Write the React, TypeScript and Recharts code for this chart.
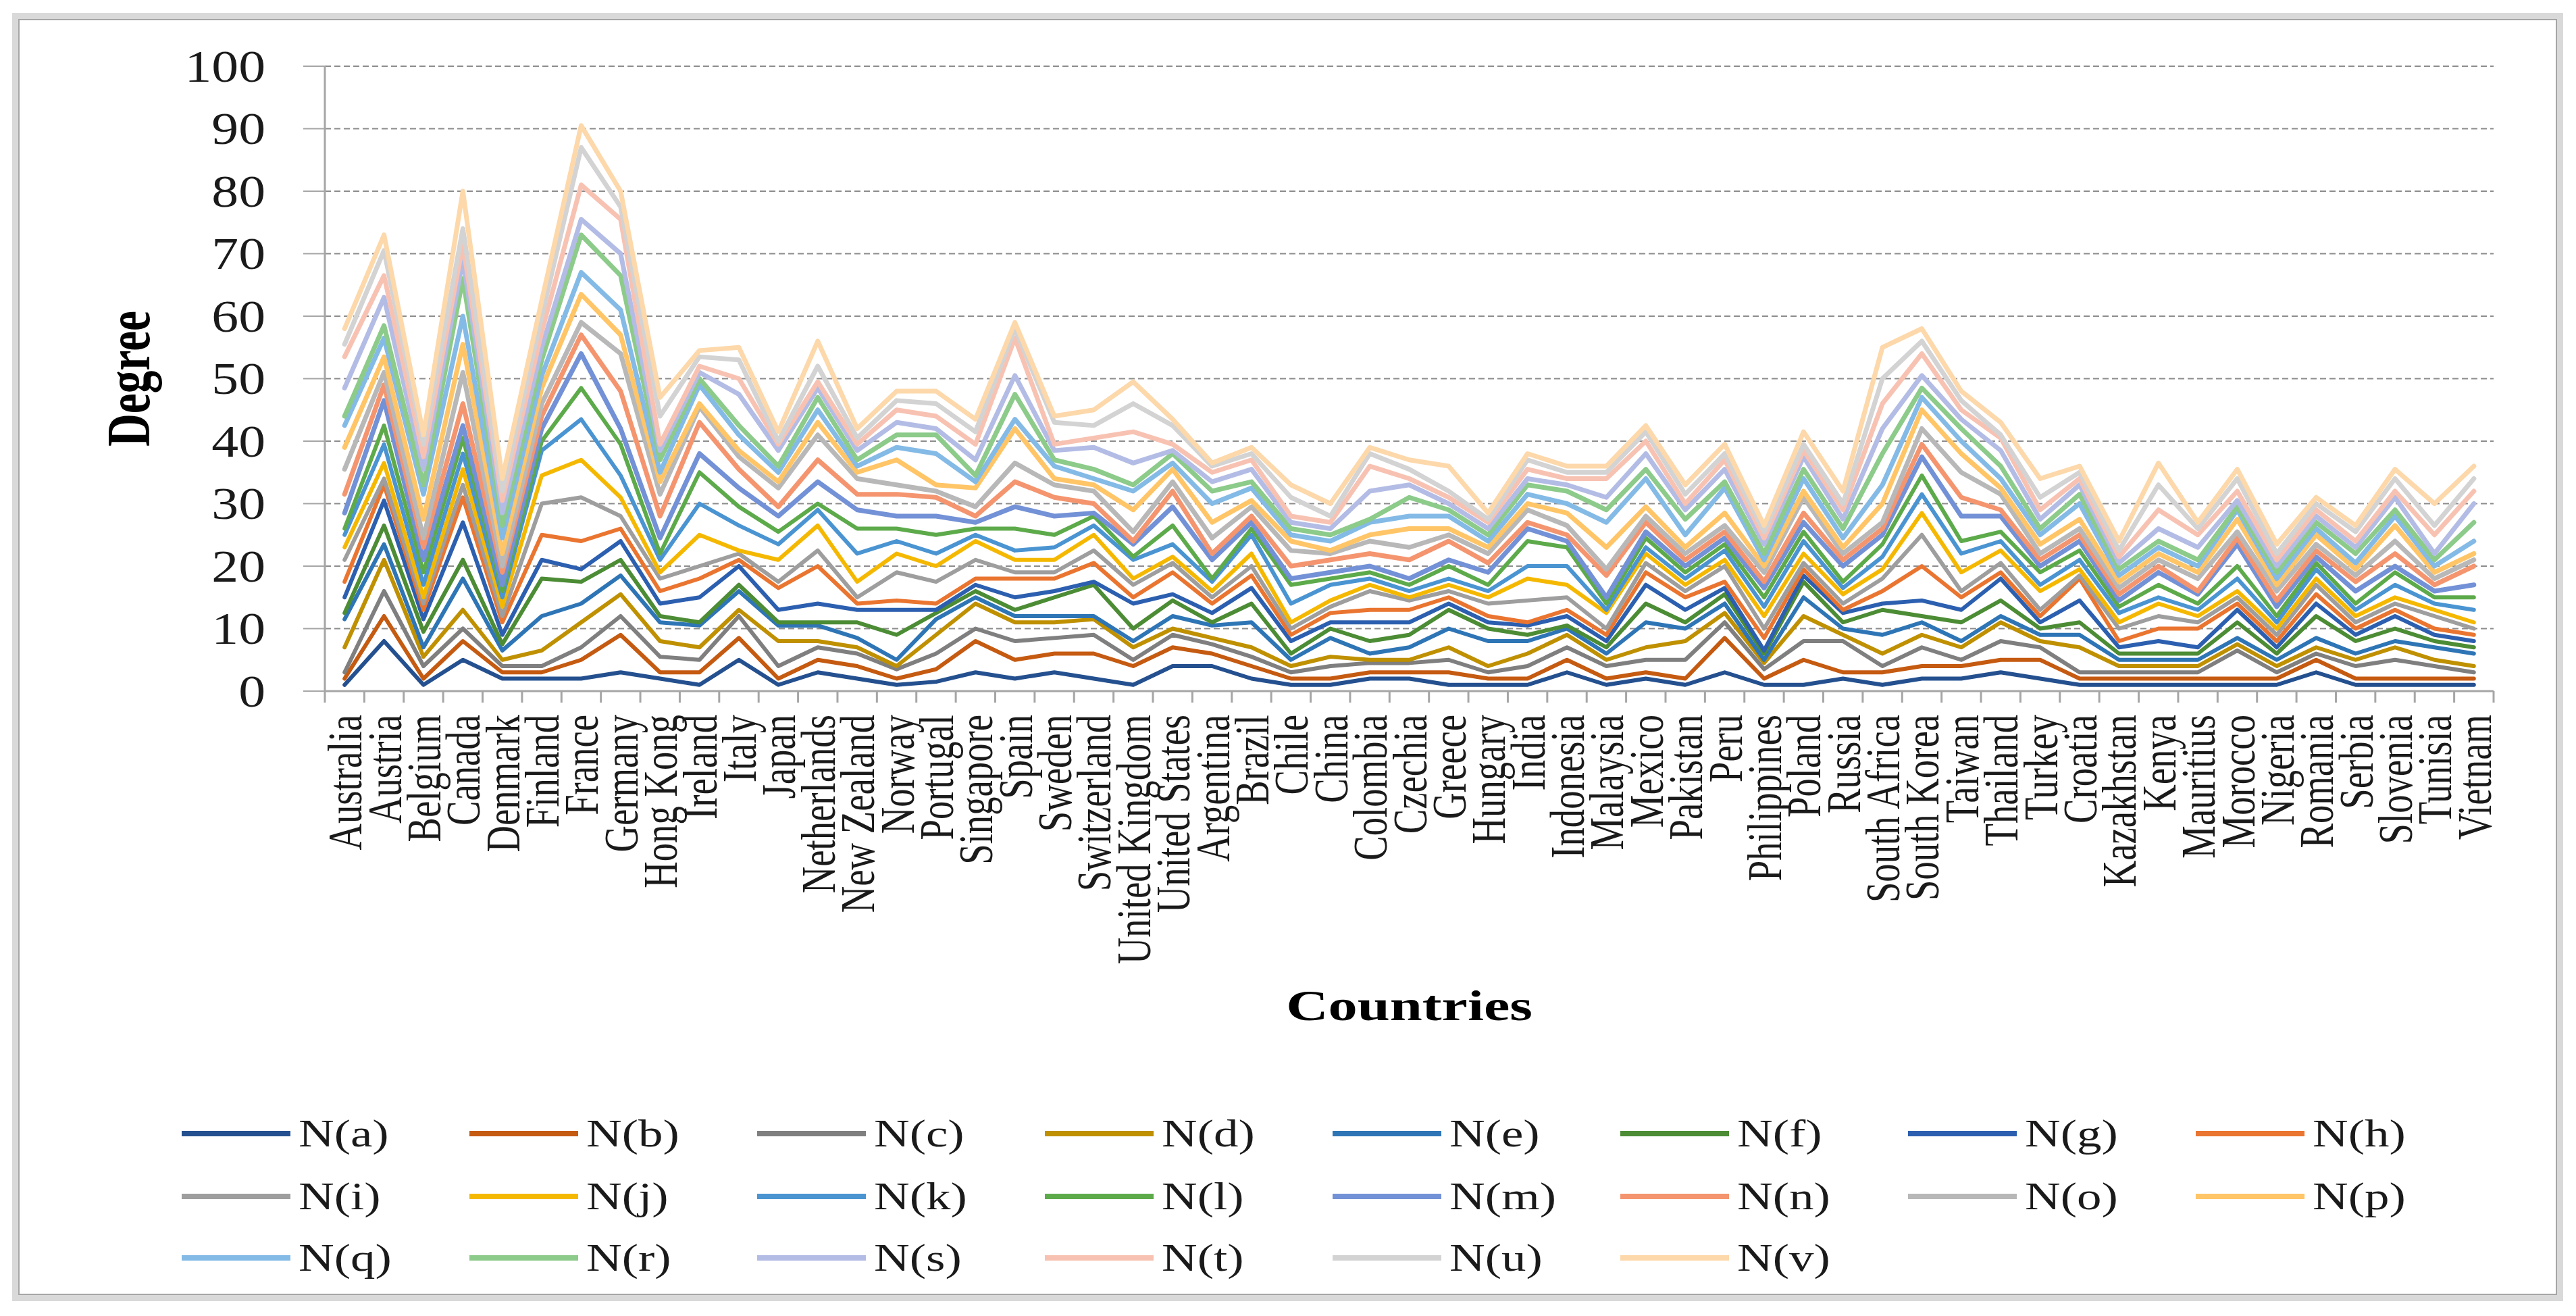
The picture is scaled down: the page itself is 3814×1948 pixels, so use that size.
import React from 'react';
import { LineChart, Line, XAxis, YAxis, CartesianGrid, Label } from 'recharts';

const countries = [
  'Australia', 'Austria', 'Belgium', 'Canada', 'Denmark', 'Finland', 'France', 'Germany', 'Hong Kong', 'Ireland',
  'Italy', 'Japan', 'Netherlands', 'New Zealand', 'Norway', 'Portugal', 'Singapore', 'Spain', 'Sweden', 'Switzerland',
  'United Kingdom', 'United States', 'Argentina', 'Brazil', 'Chile', 'China', 'Colombia', 'Czechia', 'Greece', 'Hungary',
  'India', 'Indonesia', 'Malaysia', 'Mexico', 'Pakistan', 'Peru', 'Philippines', 'Poland', 'Russia', 'South Africa',
  'South Korea', 'Taiwan', 'Thailand', 'Turkey', 'Croatia', 'Kazakhstan', 'Kenya', 'Mauritius', 'Morocco', 'Nigeria',
  'Romania', 'Serbia', 'Slovenia', 'Tunisia', 'Vietnam',
];

const seriesNames = [
  'N(a)', 'N(b)', 'N(c)', 'N(d)', 'N(e)', 'N(f)', 'N(g)', 'N(h)', 'N(i)', 'N(j)', 'N(k)',
  'N(l)', 'N(m)', 'N(n)', 'N(o)', 'N(p)', 'N(q)', 'N(r)', 'N(s)', 'N(t)', 'N(u)', 'N(v)',
];

const nA = [1,8,1,5,2,2,2,3,2,1,5,1,3,2,1,1.5,3,2,3,2,1,4,4,2,1,1,2,2,1,1,1,3,1,2,1,3,1,1,2,1,2,2,3,2,1,1,1,1,1,1,3,1,1,1,1];
const nB = [2,12,2,8,3,3,5,9,3,3,8.5,2,5,4,2,3.5,8,5,6,6,4,7,6,4,2,2,3,3,3,2,2,5,2,3,2,8.5,2,5,3,3,4,4,5,5,2,2,2,2,2,2,5,2,2,2,2];
const nC = [3,16,4,10,4,4,7,12,5.5,5,12,4,7,6,3.5,6,10,8,8.5,9,5,9,7.5,5.5,3,4,4.5,4.5,5,3,4,7,4,5,5,11,3.5,8,8,4,7,5,8,7,3,3,3,3,6.5,3,6,4,5,4,3];
const nD = [7,21,5.5,13,5,6.5,11,15.5,8,7,13,8,8,7,4,9,14,11,11,11.5,7,10,8.5,7,4,5.5,5,5,7,4,6,9,5,7,8,12.5,4.5,12,9,6,9,7,11,8,7,4,4,4,7.5,4,7,5,7,5,4];
const nE = [11.5,23.5,7,18,6.5,12,14,18.5,11,10.5,16,10.5,10.5,8.5,5,11.5,15,12,12,12,8,12,10.5,11,5,8.5,6,7,10,8,8,10,6,11,10,14,5,15,10,9,11,8,12,9,9,5,5,5,8.5,5,8.5,6,8,7,6];
const nF = [12.5,26.5,9.5,21,7.5,18,17.5,21,12,11,17,11,11,11,9,12.5,16,13,15,17,10,14.5,11,14,6,10,8,9,13,10,9,10.5,7,14,11,15.5,6,17.5,11,13,12,11,14.5,10,11,6,6,6,11,6,12,8,10,8,7];
const nG = [15,30.5,11.5,27,9,21,19.5,24,14,15,20,13,14,13,13,13,17,15,16,17.5,14,15.5,12.5,16.5,8,11,11,11,14,11,10.5,12,8,17,13,16.5,6.5,18.5,12.5,14,14.5,13,18,11,14.5,7,8,7,13,7,14,9,12,9,8];
const nH = [17.5,33,13,31,11,25,24,26,16,18,21,16.5,20,14,14.5,14,18,18,18,20.5,15,19,14,18.5,9,12.5,13,13,15,12,11,13,9,19,15,17.5,8.5,19.5,13,16,20,15,19,12,18,8,10,10,14,8,15.5,10,13,10,9];
const nI = [21,34,14,33,12,30,31,28,18,20,22,17.5,22.5,15,19,17.5,21,19,19,22.5,17,20.5,15,20,10,13.5,16,14.5,16,14,14.5,15,10,20.5,16,20,10,20.5,14,18,25,16,20.5,13,18.5,10,12,11,15,9,17,11,14,12,10];
const nJ = [23,36.5,15,35.5,13.5,34.5,37,31,19,25,22.5,21,26.5,17.5,22,20,24,21,21,25,18,21.5,16,22,11,14.5,17,15,17,15,18,17,12.5,22,17,21,12,22,15.5,19.5,28.5,19,22.5,16,19.5,11,14,12,16,10,18,12,15,13,11];
const nK = [25,39.5,17,38,15,38.5,43.5,34.5,21,30,26.5,23.5,29,22,24,22,25,22.5,23,26.5,21,23.5,17.5,25,14,17,18,16,18,16,20,20,13,23,18,22.5,13.5,24,16.5,21.5,31.5,22,24,17,21,12.5,15,13,18,11,19.5,13,17,14,13];
const nL = [26,42.5,19,40.5,16,40,48.5,39.5,22,35,29.5,25.5,30,26,26,25,26,26,25,28,21.5,26.5,18,26,17,18,19,17,20,17,24,23,14,24.5,19,23.5,15,25.5,17.5,23.5,34.5,24,25.5,19,22.5,13.5,17,14,20,12,20.5,14,19,15,15];
const nM = [28.5,46.5,21,42.5,17,42,54,42,24.5,38,32.5,28,33.5,29,28,28,27,29.5,28,28.5,23.5,29.5,21,27,18,19,20,18,21,19,26,24,15,25.5,20,24.5,16.5,27,20,25,37.5,28,28,20,24,14.5,19,15.5,23.5,13.5,21.5,16,20,16,17];
const nN = [31.5,49,23,46,19,44,57,48,28,43,35.5,29.5,37,31.5,31.5,31,28,33.5,31,30,24,32,22,28,20,21,22,21,24,20.5,27,25,18.5,27,21,25.5,17.5,28.5,21,26,39.5,31,29,21,25,15.5,20,16,24.5,14.5,22.5,17.5,22,17,20];
const nO = [35.5,51,24.5,51,20,46,59,54,31.5,45.5,37.5,32.5,41,34,33,32,29.5,36.5,33,32,25.5,33.5,24.5,29.5,22.5,22,24,23,25,22,29,26.5,19.5,28,22,26.5,19,31,22,27,42,35,31.5,22,26,16.5,21,18,25.5,16,23.5,18.5,24,18,21];
const nP = [39,53.5,27.5,55.5,22,48.5,63.5,57,33.5,46,38.5,33.5,43,35,37,33,32.5,42,34,33,29,35.5,27,30.5,24,22.5,25,26,26,23,30,28.5,23,29.5,23,28.5,20,32,23,30,45,38,32.5,23.5,27.5,17.5,22,19,27.5,17,25,19.5,26.5,19,22];
const nQ = [42.5,56.5,31.5,60,24.5,50.5,67,61,35,49,41,35,45,36,39,38,33.5,43.5,36,34,32,36.5,30,32.5,25,24,27,28,28,24,31.5,30,27,34,25,32.5,21,34,24.5,33,47,40,34,25,30,18.5,23,20,29,18,26,20.5,28,20,24];
const nR = [44,58.5,33,66,26.5,53,73,66.5,37,50,42.5,36,47,37,41,41,34.5,47.5,37,35.5,33,38,32,33.5,26,25,27.5,31,29,25,33,32,29,35.5,27.5,33.5,22,35.5,26,38,48.5,42,36,26,31.5,19.5,24,21,29.5,19,27,22,29,21,27];
const nS = [48.5,63,35.5,69,28.5,55,75.5,70,38.5,51,47.5,38.5,48.5,38.5,43,42,37,50.5,38.5,39,36.5,38.5,33.5,35.5,27,26,32,33,30,26,34,33,31,38,29,35.5,23.5,37.5,27.5,42,50.5,43.5,38.5,27.5,33,20.5,26,23,30.5,20,28,23,31,22,30];
const nT = [53.5,66.5,37.5,71.5,30.5,57.5,81,75.5,39.5,52,50,39.5,49.5,39.5,45,44,39.5,56.5,39.5,40.5,41.5,39.5,35,37,28,27,36,34,31,27,35.5,34,34,40,30,37,24.5,38.5,29,46,54,45,40.5,29,34,21.5,29,25,32,21,29,24,32,25,32];
const nU = [55.5,70.5,39.5,74,32,60,87,77.5,44,53.5,53,40,52,40.5,46.5,46,41.5,58,43,42.5,46,42.5,36,38,31,28,38,35.5,32,27.5,37,35,35,41.5,31.5,38,25.5,39.5,30,50,56,46.5,41,31,35,22.5,33,26,34,22,30,25.5,34,26.5,34];
const nV = [58,73,41,80,34,62.5,90.5,80,47,54.5,55,41.5,56,42,48,48,43.5,59,44,45,49.5,43.5,36.5,39,33,30,39,37,36,28.5,38,36,36,42.5,33,39.5,26.5,41.5,32,55,58,48,43,34,36,24,36.5,27,35.5,23.5,31,26.5,35.5,30,36];

const seriesValues = [nA, nB, nC, nD, nE, nF, nG, nH, nI, nJ, nK, nL, nM, nN, nO, nP, nQ, nR, nS, nT, nU, nV];

const seriesColors = [
  '#24508F', '#C55A11', '#7F7F7F', '#BF9000', '#2E75B6', '#4C8C35', '#2C5FAF', '#EA7530',
  '#9E9E9E', '#F5B800', '#4A94D2', '#5DAA4B', '#7391D6', '#F4956F', '#B8B8B8', '#FFC567',
  '#84BAE6', '#8CCB8A', '#B3BCE5', '#F8C2B2', '#D3D3D3', '#FDD8AA',
];

const yTicks = [0, 10, 20, 30, 40, 50, 60, 70, 80, 90, 100];
const xBoundaryTicks = countries.map((_, i) => i).concat([countries.length]);

const data = countries.map((country, i) => {
  const row: Record<string, number | string> = { x: i + 0.5, country };
  seriesValues.forEach((vals, j) => {
    row['s' + j] = vals[i];
  });
  return row;
});

// layout
const W = 3798;
const H = 1932;
const PLOT_LEFT = 473;
const PLOT_RIGHT = 3684;
const PLOT_TOP = 90;
const PLOT_BOTTOM = 1015;
const X_AXIS_H = 500;
const BAND = (PLOT_RIGHT - PLOT_LEFT) / countries.length;
const SERIF = "'Liberation Serif', 'Times New Roman', serif";

function XTick(props: any) {
  const { x, y, payload } = props;
  const v = payload.value;
  if (v >= countries.length) return <g />;
  const cx = x + BAND / 2 + 25;
  return (
    <text
      transform={`translate(${cx},${y}) rotate(-90) scale(0.76,1)`}
      textAnchor="end"
      fontFamily={SERIF}
      fontSize={72}
      fill="#1a1a1a"
    >
      {countries[v]}
    </text>
  );
}

function YTick(props: any) {
  const { x, y, payload } = props;
  return (
    <text
      transform={`translate(${x},${y}) scale(1.19,1)`}
      textAnchor="end"
      dy="0.34em"
      fontFamily={SERIF}
      fontSize={67}
      fill="#1a1a1a"
    >
      {payload.value}
    </text>
  );
}

const renderCountriesTitle = () => (
  <text
    transform={`translate(${(PLOT_LEFT + PLOT_RIGHT) / 2},1502) scale(1.35,1)`}
    textAnchor="middle"
    fontFamily={SERIF}
    fontWeight="bold"
    fontSize={64}
    fill="#000"
  >
    Countries
  </text>
);

const renderDegreeTitle = () => (
  <text
    transform={`translate(213,${(PLOT_TOP + PLOT_BOTTOM) / 2}) rotate(-90) scale(0.75,1)`}
    textAnchor="middle"
    fontFamily={SERIF}
    fontWeight="bold"
    fontSize={90}
    fill="#000"
  >
    Degree
  </text>
);

function LegendBlock() {
  const rowsY = [1670, 1763, 1854];
  return (
    <div style={{ position: 'absolute', left: 0, top: 0, width: W, height: H, pointerEvents: 'none' }}>
      {seriesNames.map((name, i) => {
        const col = i % 8;
        const row = Math.floor(i / 8);
        const left = 261 + 426 * col;
        const cy = rowsY[row];
        return (
          <div key={name} style={{ position: 'absolute', left, top: cy - 40, height: 80, width: 420 }}>
            <div
              style={{
                position: 'absolute',
                left: 0,
                top: 36,
                width: 161,
                height: 8,
                background: seriesColors[i],
              }}
            />
            <div
              style={{
                position: 'absolute',
                left: 173,
                top: 0,
                height: 80,
                lineHeight: '80px',
                fontFamily: SERIF,
                fontSize: 57,
                color: '#1a1a1a',
                transform: 'scaleX(1.28)',
                transformOrigin: 'left center',
                whiteSpace: 'nowrap',
              }}
            >
              {name}
            </div>
          </div>
        );
      })}
    </div>
  );
}

export default function App() {
  return (
    <div style={{ position: 'relative', width: W, height: H, background: '#fff' }}>
      <div
        style={{
          position: 'absolute',
          left: 10,
          top: 11,
          width: 3777,
          height: 1907,
          border: '9px solid #D9D9D9',
          boxSizing: 'border-box',
        }}
      >
        <div style={{ position: 'absolute', inset: 0, border: '2px solid #A6A6A6' }} />
      </div>
      <div style={{ position: 'absolute', left: 0, top: 0 }}>
        <LineChart
          width={W}
          height={H}
          data={data}
          margin={{ top: PLOT_TOP, right: W - PLOT_RIGHT, left: 0, bottom: H - PLOT_BOTTOM - X_AXIS_H }}
        >
          <CartesianGrid vertical={false} stroke="#8C8C8C" strokeWidth={2} strokeDasharray="9 5" />
          <XAxis
            dataKey="x"
            type="number"
            domain={[0, countries.length]}
            ticks={xBoundaryTicks}
            interval={0}
            height={X_AXIS_H}
            tickSize={17}
            tickMargin={18}
            tick={<XTick />}
            tickLine={{ stroke: '#A6A6A6', strokeWidth: 3 }}
            axisLine={{ stroke: '#A6A6A6', strokeWidth: 3 }}
          >
            <Label content={renderCountriesTitle} />
          </XAxis>
          <YAxis
            type="number"
            domain={[0, 100]}
            ticks={yTicks}
            interval={0}
            width={PLOT_LEFT}
            tickSize={32}
            tickMargin={56}
            tick={<YTick />}
            tickLine={{ stroke: '#A6A6A6', strokeWidth: 2 }}
            axisLine={{ stroke: '#A6A6A6', strokeWidth: 3 }}
          >
            <Label content={renderDegreeTitle} />
          </YAxis>
          {seriesNames.map((name, j) => (
            <Line
              key={name}
              name={name}
              dataKey={'s' + j}
              type="linear"
              stroke={seriesColors[j]}
              strokeWidth={j < 12 ? 6 : 7}
              strokeLinejoin="round"
              strokeLinecap="round"
              dot={false}
              activeDot={false}
              isAnimationActive={false}
            />
          ))}
        </LineChart>
      </div>
      <LegendBlock />
    </div>
  );
}
